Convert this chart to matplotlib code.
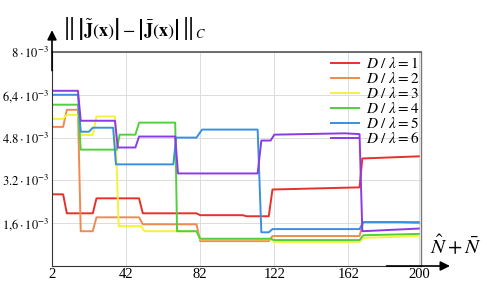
import numpy as np
import matplotlib
matplotlib.use("Agg")
import matplotlib.pyplot as plt

plt.rcParams["font.family"] = "Liberation Serif"
plt.rcParams["mathtext.fontset"] = "stix"

# breakpoints of the step curves (x = N^ + N-, y in units of 1e-3)
red_x = [2, 8, 10, 24, 26, 49, 51, 80, 82, 105, 107, 119, 121, 168, 169.5, 200]
red_y = [2.68, 2.68, 1.97, 1.97, 2.53, 2.53, 1.97, 1.97, 1.90, 1.90, 1.86, 1.86, 2.86, 2.94, 4.02, 4.10]

orange_x = [2, 8, 10, 16, 17.5, 24, 26, 49, 51, 80, 82, 119, 121, 168, 170, 190, 200]
orange_y = [5.20, 5.20, 5.84, 5.84, 1.30, 1.30, 1.82, 1.82, 1.56, 1.56, 0.93, 0.93, 1.12, 1.12, 1.64, 1.64, 1.60]

yellow_x = [2, 8, 10, 16, 17.5, 24, 26, 36, 38, 50, 52, 80, 82, 120, 122, 168, 170, 200]
yellow_y = [5.50, 5.50, 5.65, 5.65, 4.90, 4.90, 5.59, 5.59, 1.49, 1.49, 1.30, 1.30, 1.00, 1.00, 0.90, 0.90, 1.05, 1.12]

green_x = [2, 16, 17.5, 37, 38.5, 47, 49, 68.5, 69.5, 80, 82, 120, 122, 168, 170, 200]
green_y = [6.03, 6.03, 4.35, 4.35, 4.91, 4.91, 5.36, 5.36, 1.30, 1.30, 1.02, 1.02, 0.97, 0.97, 1.15, 1.20]

blue_x = [2, 16, 17.5, 22, 24, 35, 36.5, 67.5, 69, 80, 83, 113, 115, 119, 121, 168, 170, 200]
blue_y = [6.40, 6.40, 5.02, 5.02, 5.17, 5.17, 3.80, 3.80, 4.80, 4.80, 5.10, 5.10, 1.26, 1.26, 1.38, 1.38, 1.64, 1.64]

purple_x = [2, 16, 17.5, 36, 37.5, 47, 49, 68.5, 70, 113, 115, 120, 122, 160, 168, 169.5, 200]
purple_y = [6.55, 6.55, 5.43, 5.43, 4.43, 4.43, 4.84, 4.84, 3.46, 3.46, 4.69, 4.69, 4.91, 4.96, 4.93, 1.30, 1.40]

series = [
    (red_x, red_y, "#e8302a", r"$D\ /\ \lambda = 1$"),
    (orange_x, orange_y, "#f08a4e", r"$D\ /\ \lambda = 2$"),
    (yellow_x, yellow_y, "#f4f23c", r"$D\ /\ \lambda = 3$"),
    (green_x, green_y, "#52cf3e", r"$D\ /\ \lambda = 4$"),
    (blue_x, blue_y, "#3b8fe0", r"$D\ /\ \lambda = 5$"),
    (purple_x, purple_y, "#8b3be6", r"$D\ /\ \lambda = 6$"),
]

xticks = [2, 42, 82, 122, 162, 200]
yticks = [1.6e-3, 3.2e-3, 4.8e-3, 6.4e-3, 8e-3]
ytick_labels = [r"$1{,}6\cdot10^{-3}$", r"$3.2\cdot10^{-3}$", r"$4.8\cdot10^{-3}$",
                r"$6{,}4\cdot10^{-3}$", r"$8\cdot10^{-3}$"]

fig = plt.figure(figsize=(4.87, 2.82), dpi=100)
ax = fig.add_axes([0.1068, 0.0567, 0.757, 0.7589])

for xs, ys, c, lab in series:
    ax.plot(xs, np.array(ys) * 1e-3, color=c, lw=1.4, label=lab)

ax.set_xlim(2, 201)
ax.set_ylim(0, 8e-3)
ax.set_xticks(xticks)
ax.set_xticklabels([str(t) for t in xticks], fontsize=10.5)
ax.set_yticks(yticks)
ax.set_yticklabels(ytick_labels, fontsize=9)
ax.tick_params(axis="y", length=0, pad=2)
ax.tick_params(axis="x", length=0, pad=1.5)
ax.grid(color="#dcdcdc", lw=0.7)

ax.spines["top"].set_color("#555555")
ax.spines["right"].set_color("#777777")
ax.spines["top"].set_linewidth(1.2)
ax.spines["right"].set_linewidth(1.0)
ax.spines["left"].set_color("#333333")
ax.spines["bottom"].set_color("#333333")

# axis arrows
ax.annotate("", xy=(0, 1.115), xytext=(0, 0.9), xycoords="axes fraction",
            arrowprops=dict(arrowstyle="-|>", color="black", lw=1.2, mutation_scale=14),
            annotation_clip=False)
ax.annotate("", xy=(1.087, 0), xytext=(0.9, 0), xycoords="axes fraction",
            arrowprops=dict(arrowstyle="-|>", color="black", lw=1.2, mutation_scale=14),
            annotation_clip=False)

fig.text(0.127, 0.90,
         r"$\left\Vert\,\left|\tilde{\mathbf{J}}\left(\mathbf{x}\right)\right| - "
         r"\left|\bar{\mathbf{J}}\left(\mathbf{x}\right)\right|\,\right\Vert_C$",
         fontsize=13, va="center", ha="left")
fig.text(0.883, 0.128, r"$\hat{N}+\bar{N}$", fontsize=15, va="center", ha="left")

ax.legend(loc="upper right", frameon=False, fontsize=11, handlelength=1.8,
          labelspacing=0.0, borderaxespad=0.0, handletextpad=0.5,
          bbox_to_anchor=(1.015, 1.01))

plt.savefig("out.png", dpi=100)
